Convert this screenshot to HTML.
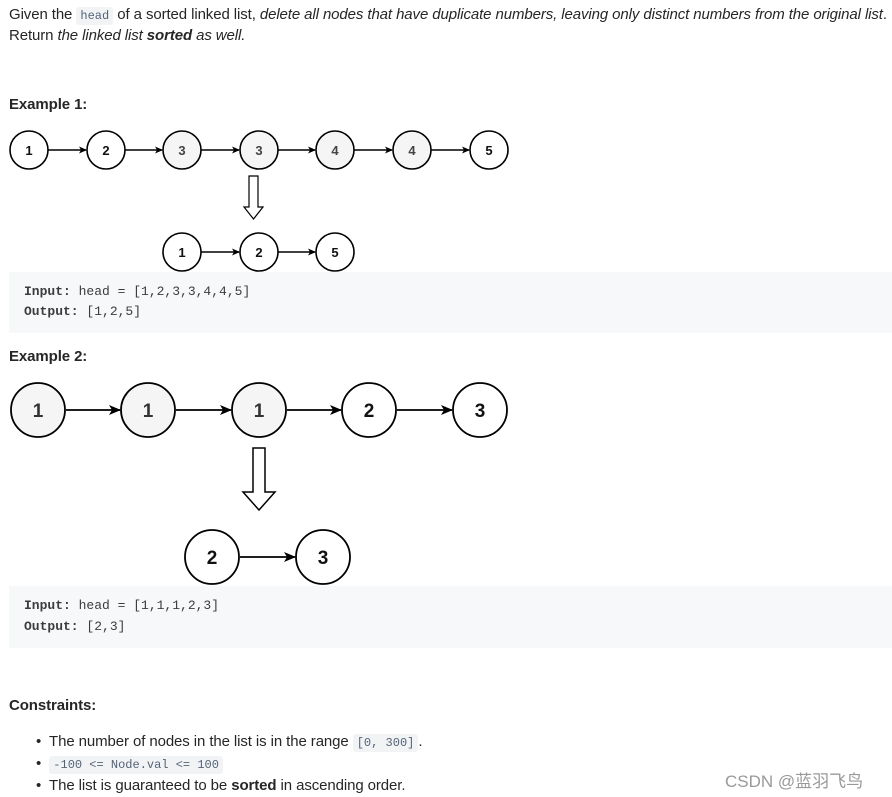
<!DOCTYPE html>
<html><head><meta charset="utf-8"><style>
body{margin:0;width:892px;height:797px;background:#fff;position:relative;overflow:hidden;font-family:"Liberation Sans",sans-serif;color:#262626;}
.t{position:absolute;font-size:15px;white-space:nowrap;letter-spacing:-0.1px}
code{font-family:"Liberation Mono",monospace;font-size:12px;background:#f2f3f5;color:#546478;padding:2px 4px;border-radius:3px;letter-spacing:0}
.pre{position:absolute;left:9px;width:883px;background:#f7f8fa;font-family:"Liberation Mono",monospace;font-size:13px;color:#3c3c3c}
.pre div{position:absolute;left:15px;white-space:nowrap}
b{font-weight:bold}
svg{position:absolute;left:0;top:0}
</style></head><body>
<div class="t" style="left:9px;top:6px">Given the <code>head</code> of a sorted linked list, <i>delete all nodes that have duplicate numbers, leaving only distinct numbers from the original list</i>.</div>
<div class="t" style="left:9px;top:27px">Return <i>the linked list <b>sorted</b> as well.</i></div>
<div class="t" style="left:9px;top:96px;font-weight:bold">Example 1:</div>
<div class="pre" style="top:272px;height:61px"><div style="top:12px"><b>Input:</b> head = [1,2,3,3,4,4,5]</div><div style="top:32px"><b>Output:</b> [1,2,5]</div></div>
<div class="t" style="left:9px;top:348px;font-weight:bold">Example 2:</div>
<div class="pre" style="top:586px;height:62px"><div style="top:12px"><b>Input:</b> head = [1,1,1,2,3]</div><div style="top:33px"><b>Output:</b> [2,3]</div></div>
<div class="t" style="left:9px;top:697px;font-weight:bold">Constraints:</div>
<div class="t" style="left:36px;top:733px">•&nbsp; The number of nodes in the list is in the range <code>[0, 300]</code>.</div>
<div class="t" style="left:36px;top:755px">•&nbsp; <code>-100 &lt;= Node.val &lt;= 100</code></div>
<div class="t" style="left:36px;top:777px">•&nbsp; The list is guaranteed to be <b>sorted</b> in ascending order.</div>
<div class="t" style="left:725px;top:767px;color:#999;font-size:17px;letter-spacing:0;font-family:'Liberation Sans','Noto Sans CJK SC',sans-serif">CSDN @蓝羽飞鸟</div>
<svg width="892" height="797" font-family="Liberation Sans,sans-serif" font-weight="bold" text-anchor="middle">
<defs><marker id="a" markerWidth="8" markerHeight="8" refX="7" refY="4" orient="auto" markerUnits="userSpaceOnUse"><path d="M0,0.5 L8,4 L0,7.5 L2,4z" fill="#000"/></marker>
<marker id="b" markerWidth="12" markerHeight="12" refX="11" refY="6" orient="auto" markerUnits="userSpaceOnUse"><path d="M0,1 L12,6 L0,11 L3,6z" fill="#000"/></marker></defs>
<g stroke="#000" stroke-width="1.4" marker-end="url(#a)">
<line x1="48" y1="150" x2="86" y2="150"/><line x1="125" y1="150" x2="162" y2="150"/><line x1="201" y1="150" x2="239" y2="150"/><line x1="278" y1="150" x2="315" y2="150"/><line x1="354" y1="150" x2="392" y2="150"/><line x1="431" y1="150" x2="469" y2="150"/>
<line x1="201" y1="252" x2="239" y2="252"/><line x1="278" y1="252" x2="315" y2="252"/>
</g>
<g stroke="#000" stroke-width="1.6">
<circle cx="29" cy="150" r="19" fill="#fff"/><circle cx="106" cy="150" r="19" fill="#fff"/><circle cx="182" cy="150" r="19" fill="#f5f5f5"/><circle cx="259" cy="150" r="19" fill="#f5f5f5"/><circle cx="335" cy="150" r="19" fill="#f5f5f5"/><circle cx="412" cy="150" r="19" fill="#f5f5f5"/><circle cx="489" cy="150" r="19" fill="#fff"/>
<circle cx="182" cy="252" r="19" fill="#fff"/><circle cx="259" cy="252" r="19" fill="#fff"/><circle cx="335" cy="252" r="19" fill="#fff"/>
</g>
<path d="M249,176 H258 V207 H263 L253.5,219 L244,207 H249 Z" fill="#fff" stroke="#000" stroke-width="1.2"/>
<g font-size="13" fill="#111">
<text x="29" y="155">1</text><text x="106" y="155">2</text><text x="182" y="155" fill="#444">3</text><text x="259" y="155" fill="#444">3</text><text x="335" y="155" fill="#444">4</text><text x="412" y="155" fill="#444">4</text><text x="489" y="155">5</text>
<text x="182" y="257">1</text><text x="259" y="257">2</text><text x="335" y="257">5</text>
</g>
<g stroke="#000" stroke-width="1.8" marker-end="url(#b)">
<line x1="66" y1="410" x2="120" y2="410"/><line x1="176" y1="410" x2="231" y2="410"/><line x1="287" y1="410" x2="341" y2="410"/><line x1="397" y1="410" x2="452" y2="410"/>
<line x1="240" y1="557" x2="295" y2="557"/>
</g>
<g stroke="#000" stroke-width="1.8">
<circle cx="38" cy="410" r="27" fill="#f5f5f5"/><circle cx="148" cy="410" r="27" fill="#f5f5f5"/><circle cx="259" cy="410" r="27" fill="#f5f5f5"/><circle cx="369" cy="410" r="27" fill="#fff"/><circle cx="480" cy="410" r="27" fill="#fff"/>
<circle cx="212" cy="557" r="27" fill="#fff"/><circle cx="323" cy="557" r="27" fill="#fff"/>
</g>
<path d="M253,448 H265 V492 H275 L259,510 L243,492 H253 Z" fill="#fff" stroke="#000" stroke-width="1.5"/>
<g font-size="19" fill="#111">
<text x="38" y="417" fill="#333">1</text><text x="148" y="417" fill="#333">1</text><text x="259" y="417" fill="#333">1</text><text x="369" y="417">2</text><text x="480" y="417">3</text>
<text x="212" y="564">2</text><text x="323" y="564">3</text>
</g>
</svg>
</body></html>
